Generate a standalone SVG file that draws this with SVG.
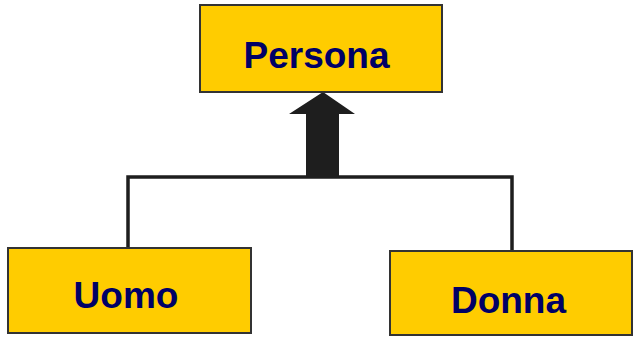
<svg xmlns="http://www.w3.org/2000/svg" width="636" height="337" viewBox="0 0 636 337">
<style>
.box{fill:#FFCC00;stroke:#333333;stroke-width:2}
.lbl{font-family:"Liberation Sans",Arial,sans-serif;font-weight:bold;font-size:37px;fill:#000066;text-anchor:middle}
.ln{stroke:#1e1e1e;stroke-width:3.5;fill:none}
</style>
<rect width="636" height="337" fill="#ffffff"/>
<g id="connectors">
<polyline class="ln" points="128,251 128,177 512,177 512,252"/>
<polygon points="306,178 306,114 289,114 323,92 355,114 339,114 339,178" fill="#1e1e1e"/>
</g>
<g id="persona">
<rect class="box" x="200" y="5" width="242" height="87"/>
<text class="lbl" x="316.5" y="68">Persona</text>
</g>
<g id="uomo">
<rect class="box" x="8" y="248" width="243" height="85"/>
<text class="lbl" x="126" y="308">Uomo</text>
</g>
<g id="donna">
<rect class="box" x="390" y="251" width="242" height="84"/>
<text class="lbl" x="508.5" y="313">Donna</text>
</g>
</svg>
